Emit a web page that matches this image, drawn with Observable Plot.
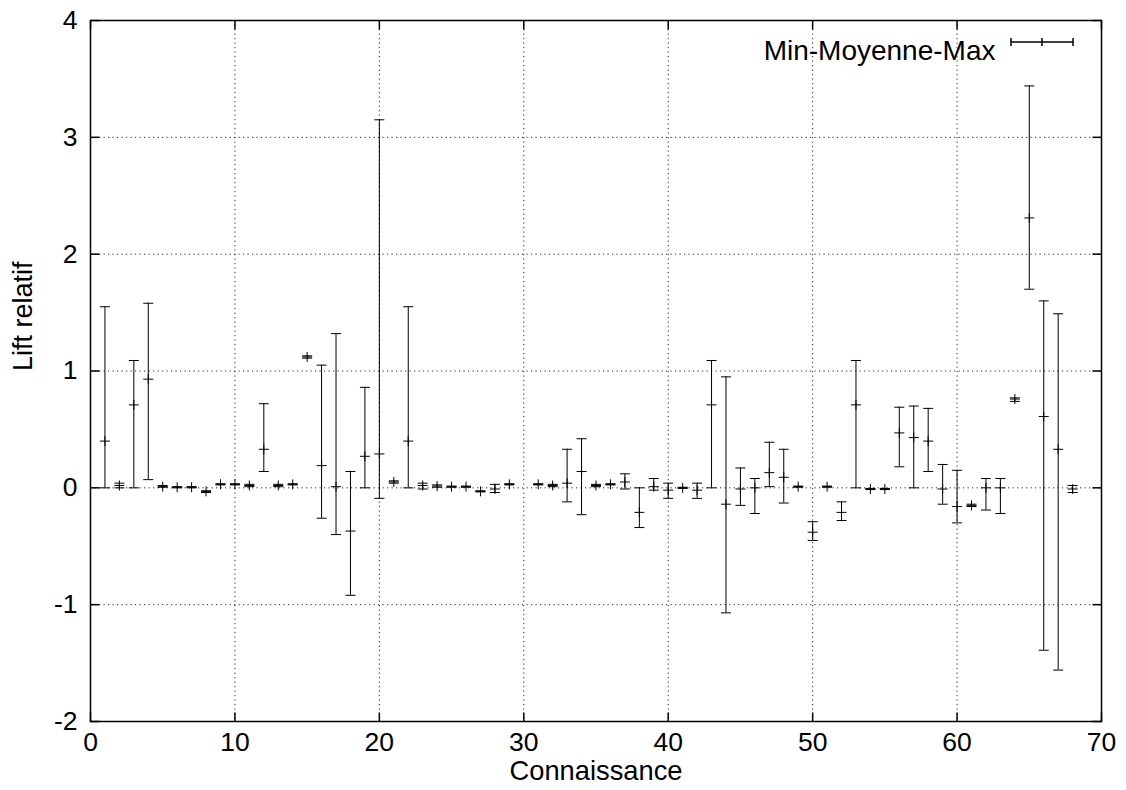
<!DOCTYPE html>
<html>
<head>
<meta charset="utf-8">
<script src="https://cdn.jsdelivr.net/npm/d3@7"></script>
<script src="https://cdn.jsdelivr.net/npm/@observablehq/plot@0.6"></script>
<style>
  html, body { margin: 0; padding: 0; background: #fff; }
</style>
</head>
<body>
<div id="chart"></div>
<script>
const xs    = [1,2,3,4,5,6,7,8,9,10,11,12,13,14,15,16,17,18,19,20,21,22,23,24,25,26,27,28,29,31,32,33,34,35,36,37,38,39,40,41,42,43,44,45,46,47,48,49,50,51,52,53,54,55,56,57,58,59,60,61,62,63,64,65,66,67,68];
const means = [0.40,0.02,0.71,0.93,0.01,0.005,0.005,-0.03,0.03,0.03,0.02,0.33,0.02,0.03,1.12,0.19,0.01,-0.37,0.27,0.29,0.05,0.40,0.02,0.015,0.01,0.01,-0.03,-0.01,0.03,0.03,0.02,0.04,0.14,0.02,0.03,0.05,-0.21,0.01,-0.02,0,-0.02,0.71,-0.14,-0.01,0,0.13,0.09,0.01,-0.38,0.01,-0.21,0.71,-0.01,-0.01,0.47,0.43,0.40,-0.01,-0.16,-0.15,0,0,0.76,2.31,0.61,0.33,-0.01];
const mins  = [0,0,0,0.07,0.005,0,0,-0.04,0.025,0.025,0.01,0.14,0.01,0.025,1.11,-0.26,-0.40,-0.92,0,-0.09,0.04,0,-0.01,0.005,0.005,0.005,-0.035,-0.04,0.025,0.025,0.01,-0.12,-0.23,0.01,0.025,-0.01,-0.34,-0.02,-0.09,-0.005,-0.09,0,-1.07,-0.15,-0.22,0.01,-0.13,0.005,-0.45,0.005,-0.28,0,-0.015,-0.015,0.18,0,0.14,-0.14,-0.30,-0.16,-0.19,-0.22,0.74,1.70,-1.39,-1.56,-0.04];
const maxs  = [1.55,0.04,1.09,1.58,0.02,0.01,0.01,-0.025,0.035,0.035,0.03,0.72,0.03,0.035,1.13,1.05,1.32,0.14,0.86,3.15,0.06,1.55,0.04,0.025,0.015,0.015,-0.025,0.03,0.035,0.035,0.03,0.33,0.42,0.03,0.035,0.12,0,0.08,0.04,0.005,0.04,1.09,0.95,0.17,0.08,0.39,0.33,0.015,-0.29,0.015,-0.12,1.09,-0.005,-0.005,0.69,0.70,0.68,0.20,0.15,-0.14,0.08,0.08,0.77,3.44,1.60,1.49,0.02];

const xTicks = [0,10,20,30,40,50,60,70];
const yTicks = [-2,-1,0,1,2,3,4];
const xLabel = "Connaissance";
const yLabel = "Lift relatif";
const legendLabel = "Min-Moyenne-Max";

const data = xs.map((x, i) => ({x, mean: means[i], min: mins[i], max: maxs[i]}));

// custom stroke-only symbols
const plusSym = {draw(c) { c.moveTo(-5, 0); c.lineTo(5, 0); c.moveTo(0, -5); c.lineTo(0, 5); }};
const capSym  = {draw(c) { c.moveTo(-5, 0); c.lineTo(5, 0); }};
const tickIn = (dx, dy) => ({draw(c) { c.moveTo(0, 0); c.lineTo(dx, dy); }});
const legendSym = {draw(c) {
  c.moveTo(-31, 0); c.lineTo(31, 0);
  c.moveTo(-31, -4); c.lineTo(-31, 4);
  c.moveTo(31, -4); c.lineTo(31, 4);
  c.moveTo(0, -4); c.lineTo(0, 4);
}};

const FS = 26.5;
const ink = "black";
const fmt = d => String(d);

const chart = Plot.plot({
  width: 1126,
  height: 790,
  marginLeft: 90,
  marginRight: 25,
  marginTop: 20,
  marginBottom: 69,
  style: {fontFamily: "'Liberation Sans', Arial, Helvetica, sans-serif", fontSize: FS + "px", color: "black", background: "white"},
  x: {domain: [0, 70]},
  y: {domain: [-2, 4]},
  marks: [
    Plot.gridX(xTicks, {stroke: ink, strokeOpacity: 0.85, strokeDasharray: "1.2,3.3"}),
    Plot.gridY(yTicks, {stroke: ink, strokeOpacity: 0.85, strokeDasharray: "1.2,3.3"}),
    Plot.axisX(xTicks, {tickSize: 0, tickPadding: 11, fontSize: FS, label: null, tickFormat: fmt}),
    Plot.axisY(yTicks, {tickSize: 0, tickPadding: 13, fontSize: FS, label: null, tickFormat: fmt}),
    // inward mirror ticks
    Plot.dot(yTicks, {y: d => d, frameAnchor: "left", symbol: tickIn(9, 0), fill: "none", stroke: ink}),
    Plot.dot(yTicks, {y: d => d, frameAnchor: "right", symbol: tickIn(-9, 0), fill: "none", stroke: ink}),
    Plot.dot(xTicks, {x: d => d, frameAnchor: "bottom", symbol: tickIn(0, -9), fill: "none", stroke: ink}),
    Plot.dot(xTicks, {x: d => d, frameAnchor: "top", symbol: tickIn(0, 9), fill: "none", stroke: ink}),
    // error bars
    Plot.ruleX(data, {x: "x", y1: "min", y2: "max", stroke: ink, strokeWidth: 1}),
    Plot.dot(data, {x: "x", y: "min", symbol: capSym, fill: "none", stroke: ink, strokeWidth: 1}),
    Plot.dot(data, {x: "x", y: "max", symbol: capSym, fill: "none", stroke: ink, strokeWidth: 1}),
    Plot.dot(data, {x: "x", y: "mean", symbol: plusSym, fill: "none", stroke: ink, strokeWidth: 1}),
    // legend
    Plot.text([legendLabel], {frameAnchor: "top-right", dx: -106, dy: 20, textAnchor: "end", fontSize: 28, fill: ink}),
    Plot.dot([legendLabel], {frameAnchor: "top-right", dx: -59.5, dy: 21.5, symbol: legendSym, fill: "none", stroke: ink}),
    // axis titles
    Plot.text([xLabel], {frameAnchor: "bottom", dy: 58, fontSize: 27.3, fill: ink}),
    Plot.text([yLabel], {frameAnchor: "left", dx: -67, rotate: -90, fontSize: 27, fill: ink}),
    Plot.frame({stroke: ink, strokeWidth: 1.5})
  ]
});
document.getElementById("chart").append(chart);
</script>
</body>
</html>
